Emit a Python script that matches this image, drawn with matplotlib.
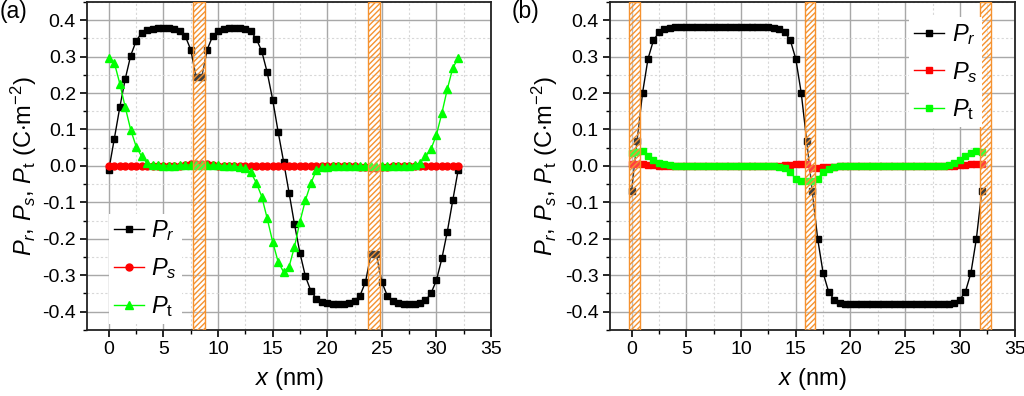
import matplotlib
matplotlib.use("Agg")
import matplotlib.pyplot as plt
from matplotlib.ticker import MultipleLocator, FormatStrFormatter

plt.rcParams['font.family'] = ['Liberation Sans', 'DejaVu Sans']
plt.rcParams['mathtext.fontset'] = 'custom'
plt.rcParams['mathtext.rm'] = 'Liberation Sans'
plt.rcParams['mathtext.it'] = 'Liberation Sans:italic'
plt.rcParams['hatch.linewidth'] = 1.0

# ---------------- data ----------------
x = [0.0, 0.5, 1.0, 1.5, 2.0, 2.5, 3.0, 3.5, 4.0, 4.5, 5.0, 5.5, 6.0, 6.5, 7.0, 7.5,
     8.0, 8.5, 9.0, 9.5, 10.0, 10.5, 11.0, 11.5, 12.0, 12.5, 13.0, 13.5, 14.0, 14.5, 15.0, 15.5,
     16.0, 16.5, 17.0, 17.5, 18.0, 18.5, 19.0, 19.5, 20.0, 20.5, 21.0, 21.5, 22.0, 22.5, 23.0, 23.5,
     24.0, 24.5, 25.0, 25.5, 26.0, 26.5, 27.0, 27.5, 28.0, 28.5, 29.0, 29.5, 30.0, 30.5, 31.0, 31.5,
     32.0]

# panel (a)
pr_a = [-0.010, 0.075, 0.161, 0.239, 0.303, 0.343, 0.365, 0.373, 0.377, 0.378, 0.378, 0.378, 0.376, 0.370, 0.356, 0.319,
        0.243, 0.243, 0.319, 0.356, 0.370, 0.376, 0.378, 0.378, 0.378, 0.376, 0.370, 0.349, 0.315, 0.257, 0.182, 0.094,
        0.012, -0.073, -0.160, -0.239, -0.303, -0.343, -0.364, -0.373, -0.377, -0.378, -0.378, -0.378, -0.376, -0.370, -0.356, -0.319,
        -0.243, -0.243, -0.319, -0.356, -0.370, -0.376, -0.378, -0.378, -0.378, -0.376, -0.369, -0.350, -0.314, -0.254, -0.180, -0.094,
        -0.010]
ps_a = [0.000, 0.000, 0.000, 0.000, 0.000, 0.000, 0.000, 0.000, 0.000, 0.000, 0.000, 0.000, 0.000, 0.001, 0.002, 0.004,
        0.006, 0.006, 0.004, 0.002, 0.001, 0.000, 0.000, 0.000, 0.000, 0.000, 0.000, 0.000, 0.000, 0.000, 0.000, 0.000,
        0.000, 0.000, 0.000, 0.000, 0.000, 0.000, 0.000, 0.000, 0.000, 0.000, 0.000, 0.000, 0.000, -0.001, -0.002, -0.004,
        -0.006, -0.006, -0.004, -0.002, -0.001, 0.000, 0.000, 0.000, 0.000, 0.000, 0.000, 0.000, 0.000, 0.000, 0.000, 0.000,
        0.000]
pt_a = [0.296, 0.283, 0.226, 0.161, 0.099, 0.053, 0.026, 0.008, 0.003, 0.002, 0.001, 0.001, 0.001, 0.002, 0.002, 0.003,
        0.003, 0.003, 0.003, 0.002, 0.002, 0.001, 0.000, -0.001, -0.003, -0.007, -0.018, -0.046, -0.084, -0.144, -0.208, -0.263,
        -0.291, -0.277, -0.222, -0.153, -0.094, -0.048, -0.012, -0.004, -0.002, -0.001, 0.000, 0.000, 0.000, 0.000, 0.000, 0.000,
        0.000, 0.000, 0.000, 0.000, 0.000, 0.000, 0.000, 0.001, 0.003, 0.008, 0.026, 0.046, 0.085, 0.145, 0.211, 0.269,
        0.296]

# panel (b)
pr_b = [-0.069, 0.069, 0.200, 0.294, 0.345, 0.367, 0.375, 0.378, 0.380, 0.380, 0.380, 0.380, 0.380, 0.380, 0.380, 0.380,
        0.380, 0.380, 0.380, 0.380, 0.380, 0.380, 0.380, 0.380, 0.380, 0.380, 0.378, 0.375, 0.367, 0.345, 0.294, 0.200,
        0.069, -0.069, -0.200, -0.294, -0.345, -0.367, -0.375, -0.378, -0.380, -0.380, -0.380, -0.380, -0.380, -0.380, -0.380, -0.380,
        -0.380, -0.380, -0.380, -0.380, -0.380, -0.380, -0.380, -0.380, -0.380, -0.380, -0.378, -0.375, -0.367, -0.345, -0.294, -0.200,
        -0.069]
ps_b = [0.005, 0.005, 0.004, 0.003, 0.002, 0.001, 0.000, 0.000, 0.000, 0.000, 0.000, 0.000, 0.000, 0.000, 0.000, 0.000,
        0.000, 0.000, 0.000, 0.000, 0.000, 0.000, 0.000, 0.000, 0.000, 0.000, 0.000, 0.001, 0.002, 0.003, 0.004, 0.005,
        0.005, -0.005, -0.005, -0.004, -0.003, -0.002, -0.001, 0.000, 0.000, 0.000, 0.000, 0.000, 0.000, 0.000, 0.000, 0.000,
        0.000, 0.000, 0.000, 0.000, 0.000, 0.000, 0.000, 0.000, 0.000, 0.000, 0.000, 0.001, 0.002, 0.003, 0.004, 0.005,
        0.005]
pt_b = [0.035, 0.038, 0.040, 0.028, 0.016, 0.008, 0.004, 0.002, 0.001, 0.000, 0.000, 0.000, 0.000, 0.000, 0.000, 0.000,
        0.000, 0.000, 0.000, 0.000, 0.000, 0.000, 0.000, 0.000, 0.000, 0.000, 0.000, -0.002, -0.006, -0.018, -0.035, -0.041,
        -0.042, -0.041, -0.035, -0.018, -0.008, -0.003, -0.001, 0.000, 0.000, 0.000, 0.000, 0.000, 0.000, 0.000, 0.000, 0.000,
        0.000, 0.000, 0.000, 0.000, 0.000, 0.000, 0.000, 0.000, 0.000, 0.001, 0.003, 0.008, 0.016, 0.028, 0.036, 0.040,
        0.038]

bands_a = [(7.75, 8.8), (23.75, 24.8)]
bands_b = [(-0.2, 0.8), (15.8, 16.8), (31.8, 32.8)]

labels = [r'$P_r$', r'$P_s$', r'$P_\mathrm{t}$']

# ---------------- figure ----------------
fig = plt.figure(figsize=(10.24, 3.96), dpi=100)
ax_a = fig.add_axes([0.085, 0.167, 0.3945, 0.828])
ax_b = fig.add_axes([0.5954, 0.167, 0.3955, 0.828])

ORANGE = '#f5922f'
GREEN = '#00ff00'
RED = '#ff0000'


def style(ax):
    ax.set_xlim(-2, 35)
    ax.set_ylim(-0.45, 0.45)
    ax.xaxis.set_major_locator(MultipleLocator(5))
    ax.xaxis.set_minor_locator(MultipleLocator(2.5))
    ax.yaxis.set_major_locator(MultipleLocator(0.1))
    ax.yaxis.set_minor_locator(MultipleLocator(0.05))
    ax.yaxis.set_major_formatter(FormatStrFormatter('%.1f'))
    ax.grid(which='major', color='#a8a8a8', lw=1.0, zorder=0)
    ax.grid(which='minor', color='#d8d8d8', lw=0.8, ls=(0, (2, 2)), zorder=0)
    ax.set_axisbelow(True)
    ax.tick_params(which='major', direction='out', length=5, width=1.2, labelsize=14,
                   top=False, right=False, pad=3)
    ax.tick_params(which='minor', direction='out', length=3, width=1.0, top=False, right=False)
    for s in ax.spines.values():
        s.set_linewidth(1.3)
        s.set_color('#222222')
    ax.set_xlabel(r'$x$ (nm)', fontsize=17)
    ax.set_ylabel(r'$P_r$, $P_s$, $P_\mathrm{t}$ (C$\cdot$m$^{-2}$)', fontsize=17)
    ax.xaxis.set_label_coords(0.5, -0.11)


style(ax_a)
style(ax_b)
ax_a.yaxis.set_label_coords(-0.12, 0.5)
ax_b.yaxis.set_label_coords(-0.122, 0.5)

# panel (a)
ax_a.plot(x, pr_a, color='black', lw=1.0, marker='s', ms=4.5, label=labels[0], zorder=3)
ax_a.plot(x, ps_a, color=RED, lw=1.0, marker='o', ms=5, label=labels[1], zorder=3)
ax_a.plot(x, pt_a, color=GREEN, lw=1.0, marker='^', ms=5.5, label=labels[2], zorder=3)
for lo, hi in bands_a:
    ax_a.axvspan(lo, hi, facecolor=(1, 1, 1, 0.25), edgecolor=ORANGE, hatch='//////', lw=1.0, zorder=5)

# panel (b)
ax_b.plot(x, pr_b, color='black', lw=1.0, marker='s', ms=4.5, label=labels[0], zorder=3)
ax_b.plot(x, ps_b, color=RED, lw=1.0, marker='s', ms=4.5, label=labels[1], zorder=3)
ax_b.plot(x, pt_b, color=GREEN, lw=1.0, marker='s', ms=4.5, label=labels[2], zorder=3)
for lo, hi in bands_b:
    ax_b.axvspan(lo, hi, facecolor=(1, 1, 1, 0.25), edgecolor=ORANGE, hatch='//////', lw=1.0, zorder=5)

leg_kw = dict(fontsize=17, frameon=True, fancybox=False, framealpha=1.0, edgecolor='none',
              handlelength=1.3, handletextpad=0.3, labelspacing=0.55, borderpad=0.2)
lg_a = ax_a.legend(loc='upper left', bbox_to_anchor=(0.025, 0.39), **leg_kw)
lg_a.set_zorder(10)
lg_b = ax_b.legend(loc='upper left', bbox_to_anchor=(0.71, 0.99), **leg_kw)
lg_b.set_zorder(10)

fig.text(0.0, 1.0, '(a)', fontsize=16.5, ha='left', va='top')
fig.text(0.5, 1.0, '(b)', fontsize=16.5, ha='left', va='top')

fig.savefig('out.png', dpi=100)
